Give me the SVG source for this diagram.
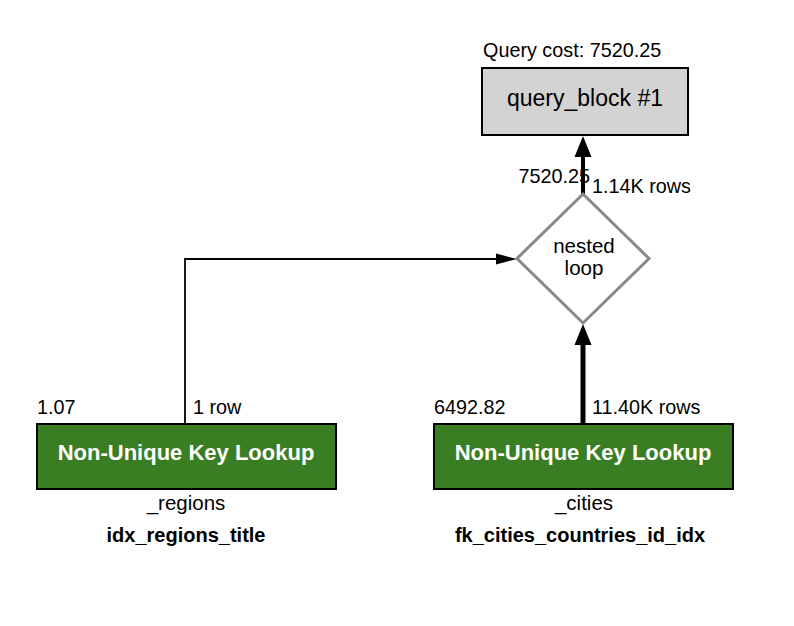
<svg xmlns="http://www.w3.org/2000/svg" width="794" height="626" viewBox="0 0 794 626">
<style>
text{font-family:"Liberation Sans",Arial,sans-serif;fill:#000}
.lbl{font-size:19.8px}
.title{font-size:22px;font-weight:bold;fill:#fff}
.tbl{font-size:20.5px}
.idx{font-size:20px;font-weight:bold}
.green{fill:#3a7e23;stroke:#000;stroke-width:2}
.line{fill:none;stroke:#000}
.head{fill:#000;stroke:none}
</style>
<rect width="794" height="626" fill="#fff"/>
<g id="connectors">
<polyline class="line" stroke-width="1.8" points="185,424 185,259 498,259"/>
<polygon class="head" points="517,259 496,253.5 496,264.5"/>
<line class="line" stroke-width="5" x1="583" y1="424" x2="583" y2="343"/>
<polygon class="head" points="583,324 574.5,345 591.5,345"/>
<line class="line" stroke-width="4" x1="583" y1="194" x2="583" y2="154"/>
<polygon class="head" points="583,136 574.5,157 591.5,157"/>
<text class="lbl" x="590" y="183" text-anchor="end">7520.25</text>
<text class="lbl" x="592" y="193">1.14K rows</text>
<text class="lbl" x="37" y="414">1.07</text>
<text class="lbl" x="193" y="414">1 row</text>
<text class="lbl" x="434" y="414">6492.82</text>
<text class="lbl" x="592" y="414">11.40K rows</text>
</g>
<g id="query_block">
<text class="lbl" x="483" y="57">Query cost: 7520.25</text>
<rect x="482" y="68" width="206" height="67" fill="#d3d3d3" stroke="#000" stroke-width="2"/>
<text x="585" y="106" text-anchor="middle" font-size="23">query_block #1</text>
</g>
<g id="nested_loop">
<polygon points="583,194 649,258.5 583,323 517,258.5" fill="#fff" stroke="#888" stroke-width="3"/>
<text x="584" y="253" text-anchor="middle" font-size="20.5">nested</text>
<text x="584" y="275" text-anchor="middle" font-size="20.5">loop</text>
</g>
<g id="regions">
<rect class="green" x="37" y="424" width="299" height="65"/>
<text class="title" x="186" y="460" text-anchor="middle">Non-Unique Key Lookup</text>
<text class="tbl" x="186" y="510" text-anchor="middle">_regions</text>
<text class="idx" x="186" y="542" text-anchor="middle">idx_regions_title</text>
</g>
<g id="cities">
<rect class="green" x="434" y="424" width="299" height="65"/>
<text class="title" x="583" y="460" text-anchor="middle">Non-Unique Key Lookup</text>
<text class="tbl" x="584" y="510" text-anchor="middle">_cities</text>
<text class="idx" x="580" y="542" text-anchor="middle">fk_cities_countries_id_idx</text>
</g>
</svg>
